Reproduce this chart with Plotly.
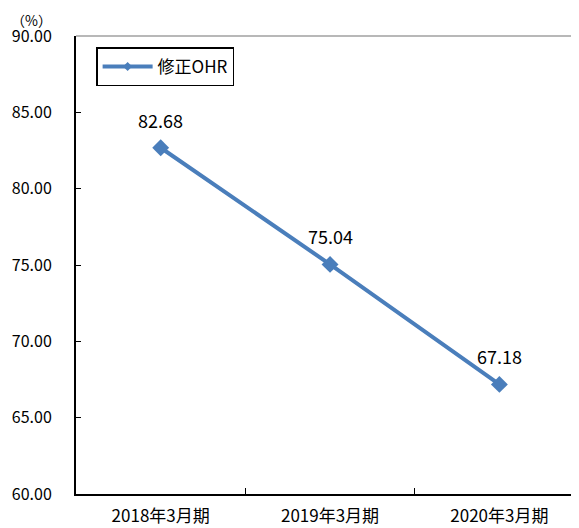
import plotly.graph_objects as go

categories = ["2018年3月期", "2019年3月期", "2020年3月期"]
ohr_values = [82.68, 75.04, 67.18]
series_name = "修正OHR"
y_ticks = [60, 65, 70, 75, 80, 85, 90]

FONT = "Noto Sans CJK JP"
BLUE = "#4a7ebb"

fig = go.Figure()
fig.add_trace(go.Scatter(
    x=categories, y=ohr_values, name=series_name,
    mode="lines+markers", showlegend=False,
    line=dict(color=BLUE, width=4),
    marker=dict(symbol="diamond", size=13, color=BLUE),
    cliponaxis=False,
))
# legend entry with the smaller marker seen in the reference legend
fig.add_trace(go.Scatter(
    x=[None], y=[None], name=series_name, mode="lines+markers",
    line=dict(color=BLUE, width=4),
    marker=dict(symbol="diamond", size=7, color=BLUE),
))

label_annotations = [
    dict(x=c, y=v, text=f"{v:.2f}", xref="x", yref="y", showarrow=False,
         yshift=28, font=dict(size=18, family=FONT, color="black"))
    for c, v in zip(categories, ohr_values)
]

fig.update_layout(
    width=571, height=520,
    margin=dict(l=68, r=0, t=28, b=34),
    paper_bgcolor="white", plot_bgcolor="white",
    font=dict(family=FONT, color="black", size=16),
    showlegend=True,
    legend=dict(x=0.04, y=0.975, xanchor="left", yanchor="top",
                bordercolor="black", borderwidth=1.5, bgcolor="white",
                font=dict(size=17, family=FONT), itemwidth=50),
    xaxis=dict(type="category", range=[-0.5, 2.47], showline=True,
               linecolor="black", linewidth=2, ticks="inside",
               tickson="boundaries", ticklen=6, tickcolor="black",
               showgrid=False, tickfont=dict(size=17), ticklabelstandoff=6),
    yaxis=dict(range=[60, 90], tickvals=y_ticks,
               ticktext=[f"{v:.2f}" for v in y_ticks],
               showline=True, linecolor="black", linewidth=2,
               ticks="inside", ticklen=5, tickcolor="black",
               showgrid=False, zeroline=False, ticklabelstandoff=19,
               tickfont=dict(size=16)),
    annotations=label_annotations + [
        dict(text="（%）", x=0.0, y=1.0, xref="paper", yref="paper",
             xshift=-45, yshift=28, xanchor="center", yanchor="top",
             showarrow=False, font=dict(size=14, family=FONT))],
    shapes=[dict(type="line", xref="paper", yref="paper", x0=0, x1=1, y0=1, y1=1,
                 line=dict(color="#a0a0a0", width=1.5))],
)

fig.write_html("out.html")
